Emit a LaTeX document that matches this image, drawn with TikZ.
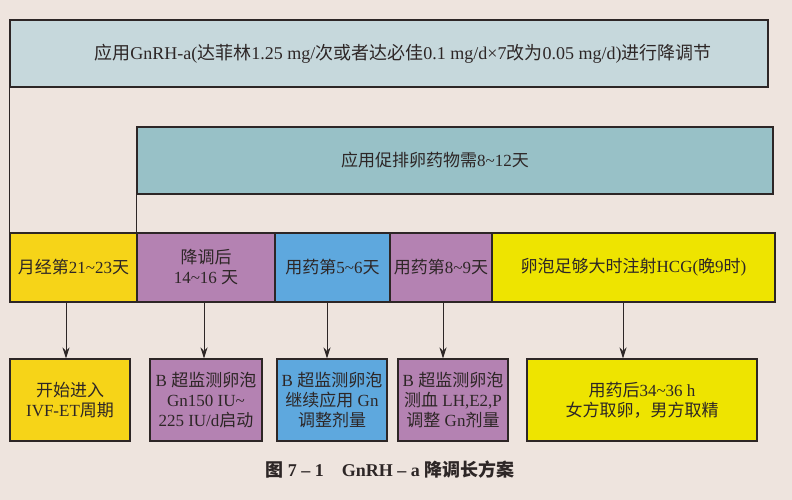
\documentclass[tikz,border=0pt]{standalone}
\usepackage{fontspec}
\setmainfont{Liberation Serif}
\newfontfamily\zhfont{Noto Sans CJK SC}
\newcommand{\cn}[1]{{\zhfont #1}}
\newcommand{\tl}{\textasciitilde}
\usepackage{tikz}
\usetikzlibrary{arrows.meta}

\definecolor{paper}{RGB}{238,228,222}
\definecolor{topfill}{RGB}{198,216,220}
\definecolor{midfill}{RGB}{152,193,199}
\definecolor{ylwA}{RGB}{246,212,24}
\definecolor{ylwB}{RGB}{238,228,0}
\definecolor{lilac}{RGB}{180,130,178}
\definecolor{sky}{RGB}{94,168,222}
\definecolor{ink}{RGB}{45,38,38}

\tikzset{
  box/.style={shape=rectangle,draw=ink,line width=1.1pt,inner sep=0pt,
    align=center,text=ink,font=\fontsize{17}{20}\selectfont},
  link/.style={draw=ink,line width=0.8pt},
  feed/.style={link,-{Stealth[length=11pt,width=7pt]}}
}

\begin{document}
\begin{tikzpicture}[x=1pt,y=-1pt]
\fill[paper] (0,0) rectangle (792,500);
\useasboundingbox (0,0) rectangle (792,500);
% bands
\node[box,fill=topfill,minimum width=758,minimum height=67,font=\fontsize{18}{20}\selectfont] (gnrh) at (389,53.5)
  {\hspace*{28pt}\cn{应用}GnRH-a(\cn{达菲林}1.25 mg/\cn{次或者达必佳}0.1 mg/d×7\cn{改为}0.05 mg/d)\cn{进行降调节}};
\node[box,fill=midfill,minimum width=636,minimum height=67] (drug) at (455,160.5)
  {\cn{应用促排卵药物需}8\tl12\cn{天}\hspace*{40pt}};
% time line
\node[box,fill=ylwA,minimum width=127,minimum height=69] (d21) at (73.5,267.5) {\cn{月经第}21\tl23\cn{天}};
\node[box,fill=lilac,minimum width=138,minimum height=69] (down) at (206,267.5) {\cn{降调后}\\14\tl16 \cn{天}};
\node[box,fill=sky,minimum width=115,minimum height=69] (d56) at (332.5,267.5) {\cn{用药第}5\tl6\cn{天}};
\node[box,fill=lilac,minimum width=102,minimum height=69] (d89) at (441,267.5) {\cn{用药第}8\tl9\cn{天}};
\node[box,fill=ylwB,minimum width=283,minimum height=69] (hcg) at (633.5,267.5) {\cn{卵泡足够大时注射}HCG(\cn{晚}9\cn{时})};
% actions
\node[box,fill=ylwA,minimum width=120,minimum height=82] (ivf) at (70,400) {\cn{开始进入}\\IVF-ET\cn{周期}};
\node[box,fill=lilac,minimum width=112,minimum height=82] (gn1) at (206,400) {B \cn{超监测卵泡}\\Gn150 IU\tl\\225 IU/d\cn{启动}};
\node[box,fill=sky,minimum width=110,minimum height=82] (gn2) at (332,400) {B \cn{超监测卵泡}\\\cn{继续应用} Gn\\\cn{调整剂量}};
\node[box,fill=lilac,minimum width=110,minimum height=82] (gn3) at (453,400) {B \cn{超监测卵泡}\\\cn{测血} LH,E2,P\\\cn{调整} Gn\cn{剂量}};
\node[box,fill=ylwB,minimum width=230,minimum height=82] (opu) at (642,400) {\cn{用药后}34\tl36 h\\\cn{女方取卵，男方取精}};
\node[text=ink,font=\fontsize{18}{20}\selectfont\bfseries] (cap) at (390,470)
  {\cn{图} 7 -- 1\quad GnRH -- a \cn{降调长方案}};
\draw[link] (gnrh.south west) -- (d21.north west);
\draw[link] (drug.south west) -- (down.north west);
\draw[feed] ([xshift=-7.5]d21.south) -- ([xshift=-4]ivf.north);
\draw[feed] ([xshift=-2]down.south) -- ([xshift=-2]gn1.north);
\draw[feed] ([xshift=-5.5]d56.south) -- ([xshift=-5]gn2.north);
\draw[feed] ([xshift=2]d89.south) -- ([xshift=-10]gn3.north);
\draw[feed] ([xshift=-10.5]hcg.south) -- ([xshift=-19]opu.north);
\end{tikzpicture}
\end{document}
